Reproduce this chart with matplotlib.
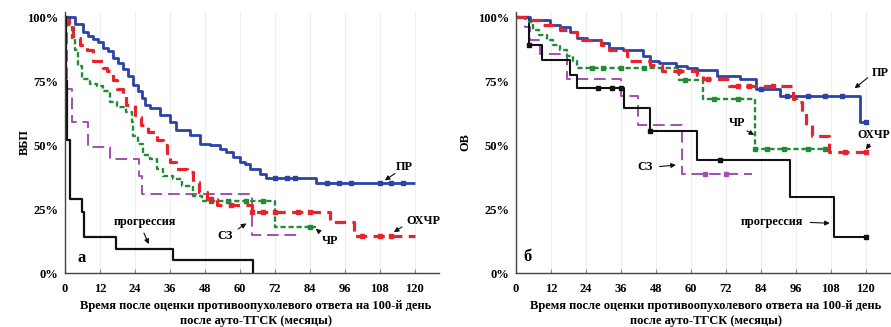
import matplotlib
matplotlib.use('Agg')
import matplotlib.pyplot as plt
import numpy as np

plt.rcParams['font.family'] = ['Liberation Serif', 'DejaVu Serif']
plt.rcParams['font.weight'] = 'bold'

# ---------------- Panel а : ВБП (%) ----------------
a_pr_t = [0, 3.4, 6.3, 8.0, 9.7, 11.4, 13.1, 14.8, 16.6, 18.3, 20.0, 21.7, 23.4, 25.1, 26.3, 27.4, 29.1,
          32.5, 36.0, 38.2, 42.8, 46.2, 49.7, 53.1, 55.4, 57.7, 60.0, 61.6, 63.4, 66.8, 69.1, 86]
a_pr_s = [100, 97.4, 94.1, 92.8, 91.4, 90.1, 88.1, 86.8, 84.2, 82.2, 79.6, 77.0, 73.6, 71.0, 68.4, 65.7, 64.4,
          61.8, 59.1, 55.8, 53.9, 50.6, 49.9, 48.6, 47.3, 45.3, 43.3, 42.7, 40.7, 38.7, 37.0, 35.0]
a_pr_end = 120
a_pr_cens = [72, 76, 79, 90, 94, 98, 108, 112, 116]

a_ox_t = [0, 1.5, 2.7, 5.0, 7.5, 9.6, 13.0, 14.4, 16.4, 18.0, 20.0, 21.0, 24.0, 26.0, 28.5, 31.5, 33.6,
          35.0, 36.0, 38.0, 42.0, 44.0, 46.0, 48.6, 52.0, 64.0, 91.0, 99.0]
a_ox_s = [100, 96, 92, 89, 87, 83, 80, 79, 75.5, 72, 69.5, 65.6, 61, 57.7, 55, 52, 50,
          47, 43.5, 40.7, 39.5, 35.6, 31.6, 28.9, 26.5, 24, 20, 14.6]
a_ox_end = 120
a_ox_cens = [50, 57, 64, 68, 72, 80, 84, 102, 108, 112]

a_cr_t = [0, 1.0, 2.4, 3.4, 4.5, 5.8, 8.6, 11.0, 13.0, 15.4, 18.0, 21.0, 23.0, 23.3, 25.0, 26.7, 29.0,
          31.5, 33.6, 37.0, 40.0, 44.0, 47.0, 72.0]
a_cr_s = [100, 97, 92, 87, 81, 76, 74, 73, 71, 67, 65, 63, 59, 53.7, 50.6, 46, 44.7,
          40.7, 38, 36.8, 34, 30, 28, 18]
a_cr_end = 86
a_cr_cens = [50, 56, 62, 68, 84]

a_sz_t = [0, 0.8, 2.4, 7.9, 15.4, 25.5, 26.5, 64.0]
a_sz_s = [100, 72, 59, 49.4, 44.7, 38, 31, 15]
a_sz_end = 80.5

a_pg_t = [0, 0.3, 0.8, 1.8, 5.8, 6.5, 17.5, 37.0, 64.5]
a_pg_s = [100, 75, 52, 29, 24, 14, 9.5, 5, 0]
a_pg_end = 64.5

# ---------------- Panel б : ОВ (%) ----------------
b_pr_t = [0, 4.8, 11.6, 15.0, 18.5, 21.0, 24.3, 29.0, 32.0, 36.6, 43.5, 46.0, 49.0, 55.0, 58.5, 62.0,
          69.0, 77.0, 82.5, 90.5, 118.0]
b_pr_s = [100, 99, 97, 96, 94, 92, 91, 90, 88, 87, 85, 83, 82, 81, 80, 79.5,
          77, 76, 72, 69, 59]
b_pr_end = 120
b_pr_cens = [84, 93, 100, 106, 112, 120]

b_ox_t = [0, 3.0, 9.0, 15.0, 18.5, 21.0, 29.0, 32.0, 38.0, 39.0, 46.0, 50.0, 62.0, 64.0, 73.0,
          95.0, 96.0, 98.0, 99.6, 101.7, 107.5]
b_ox_s = [100, 99, 97, 95, 94, 91, 89, 87, 85, 83, 81.4, 79, 77.5, 76, 73,
          68, 67, 63, 57.7, 53.7, 47.4]
b_ox_end = 120
b_ox_cens = [56, 66, 76, 80, 88, 113, 120]

b_cr_t = [0, 4.5, 6.0, 8.0, 10.6, 12.7, 15.0, 17.5, 19.5, 21.0, 56.0, 64.0, 82.0]
b_cr_s = [100, 98, 95, 93, 91, 89, 87, 85, 83, 80, 75.5, 68, 48.6]
b_cr_end = 107.5
b_cr_cens = [26, 30, 36, 44, 58, 68, 76, 82, 86, 92, 100, 106]

b_sz_t = [0, 3.0, 4.8, 8.2, 17.5, 36.0, 42.0, 57.0]
b_sz_s = [100, 96, 91, 85.4, 76, 69, 57.7, 38.5]
b_sz_end = 81
b_sz_cens = [65, 72]

b_pg_t = [0, 4.5, 9.0, 18.5, 21.0, 37.0, 46.0, 62.0, 94.0, 109.0]
b_pg_s = [100, 89, 83.4, 77.5, 72.3, 64.4, 55.3, 44, 29.6, 14.2]
b_pg_end = 120
b_pg_cens = [4.5, 28, 33, 36, 46, 70, 120]

xticks = [0, 12, 24, 36, 48, 60, 72, 84, 96, 108, 120]
yticks = [0, 25, 50, 75, 100]
ytick_labels = ['0%', '25%', '50%', '75%', '100%']

C_BLUE = '#2a44a6'
C_RED = '#e8232b'
C_GREEN = '#218b35'
C_PURP = '#a24fb0'
C_BLACK = '#111111'

W, H = 891, 327
fig = plt.figure(figsize=(W / 100, H / 100), dpi=100)


def px_axes(x0, x1, y_top, y_bot):
    return fig.add_axes([x0 / W, 1 - y_bot / H, (x1 - x0) / W, (y_bot - y_top) / H])


def km(ax, t, s, end, color, lw, dashes=None, cens=None, ms=2.6):
    tt = list(t) + [end]
    ss = list(s) + [s[-1]]
    line, = ax.step(tt, ss, where='post', color=color, lw=lw, solid_capstyle='butt')
    if dashes is not None:
        line.set_dashes(dashes)
    if cens:
        ta = np.asarray(t)
        cv = [s[max(np.searchsorted(ta, c, side='right') - 1, 0)] for c in cens]
        ax.plot(cens, cv, linestyle='none', marker='s', ms=ms, color=color, mec=color)


def style(ax):
    ax.set_xlim(0, 128.3)
    ax.set_ylim(0, 102)
    for sp in ['top', 'right']:
        ax.spines[sp].set_visible(False)
    for sp in ['left', 'bottom']:
        ax.spines[sp].set_color('#444444')
        ax.spines[sp].set_linewidth(1.0)
    ax.set_xticks(xticks)
    ax.set_xticklabels([str(v) for v in xticks], fontsize=9, fontweight='bold')
    ax.set_yticks(yticks)
    ax.set_yticklabels(ytick_labels, fontsize=9, fontweight='bold')
    ax.tick_params(axis='x', direction='in', length=3, width=0.8, color='#888888', pad=7)
    ax.tick_params(axis='y', length=0, pad=5)
    ax.grid(axis='x', color='#eeeeee', lw=0.8)
    ax.set_axisbelow(True)


def lab(ax, text, xytext, fs=8.8, ha='center'):
    ax.text(xytext[0], xytext[1], text, fontsize=fs, fontweight='bold', ha=ha, va='center')


def arr(ax, start, end):
    ax.annotate('', xy=end, xytext=start,
                arrowprops=dict(arrowstyle='-|>', color='#111111', lw=0.8, mutation_scale=7))


# Panel а
ax1 = px_axes(65, 439, 12, 273)
style(ax1)
km(ax1, a_sz_t, a_sz_s, a_sz_end, C_PURP, 1.4, dashes=(6, 3))
km(ax1, a_cr_t, a_cr_s, a_cr_end, C_GREEN, 1.7, dashes=(2.2, 1.2), cens=a_cr_cens)
km(ax1, a_ox_t, a_ox_s, a_ox_end, C_RED, 2.3, dashes=(3.5, 2.0), cens=a_ox_cens)
km(ax1, a_pr_t, a_pr_s, a_pr_end, C_BLUE, 2.0, cens=a_pr_cens)
km(ax1, a_pg_t, a_pg_s, a_pg_end, C_BLACK, 1.6)

lab(ax1, 'ПР', (116.4, 41.5))
arr(ax1, (114.0, 39.5), (108.9, 35.6))
lab(ax1, 'ОХЧР', (123.0, 20.5))
arr(ax1, (116.4, 18.6), (112.0, 15.4))
lab(ax1, 'ЧР', (90.8, 12.6))
arr(ax1, (88.0, 15.4), (85.3, 18.0))
lab(ax1, 'СЗ', (55.0, 14.6))
arr(ax1, (58.6, 16.6), (63.0, 20.0))
lab(ax1, 'прогрессия', (27.4, 19.8))
arr(ax1, (26.7, 16.6), (29.1, 10.3))
ax1.text(5.8, 6.0, 'а', fontsize=12, fontweight='bold', ha='center', va='center')

# Panel б
ax2 = px_axes(516, 890, 12, 273)
style(ax2)
km(ax2, b_sz_t, b_sz_s, b_sz_end, C_PURP, 1.4, dashes=(6, 3), cens=b_sz_cens)
km(ax2, b_pg_t, b_pg_s, b_pg_end, C_BLACK, 1.5, cens=b_pg_cens, ms=2.2)
km(ax2, b_cr_t, b_cr_s, b_cr_end, C_GREEN, 1.7, dashes=(2.2, 1.2), cens=b_cr_cens)
km(ax2, b_pr_t, b_pr_s, b_pr_end, C_BLUE, 2.0, cens=b_pr_cens)
km(ax2, b_ox_t, b_ox_s, b_ox_end, C_RED, 2.3, dashes=(3.5, 2.0), cens=b_ox_cens)

ax2.text(128.0, 78.0, 'ПР', fontsize=8.8, fontweight='bold', ha='right', va='center', clip_on=False)
arr(ax2, (121.4, 77.0), (115.4, 71.5))
ax2.text(128.2, 54.0, 'ОХЧР', fontsize=8.5, fontweight='bold', ha='right', va='center', clip_on=False)
arr(ax2, (121.9, 51.2), (119.5, 47.4))
lab(ax2, 'ЧР', (75.7, 58.5))
arr(ax2, (78.4, 56.1), (82.5, 53.4))
lab(ax2, 'СЗ', (44.2, 41.5))
arr(ax2, (48.3, 41.5), (55.8, 42.3))
lab(ax2, 'прогрессия', (87.7, 19.8))
arr(ax2, (100.0, 19.8), (108.6, 19.4))
ax2.text(4.1, 6.3, 'б', fontsize=12, fontweight='bold', ha='center', va='center')

# axis titles
fig.text(25 / W, 1 - 142 / H, 'ВБП', rotation=90, fontsize=8.8, fontweight='bold', ha='center', va='center')
fig.text(465 / W, 1 - 142 / H, 'ОВ', rotation=90, fontsize=8.8, fontweight='bold', ha='center', va='center')
for cx in (256, 706):
    fig.text(cx / W, 1 - 306 / H, 'Время после оценки противоопухолевого ответа на 100-й день',
             fontsize=9, fontweight='bold', ha='center', va='center')
    fig.text(cx / W, 1 - 321 / H, 'после ауто-ТГСК (месяцы)',
             fontsize=9, fontweight='bold', ha='center', va='center')

fig.savefig('out.png', dpi=100)
